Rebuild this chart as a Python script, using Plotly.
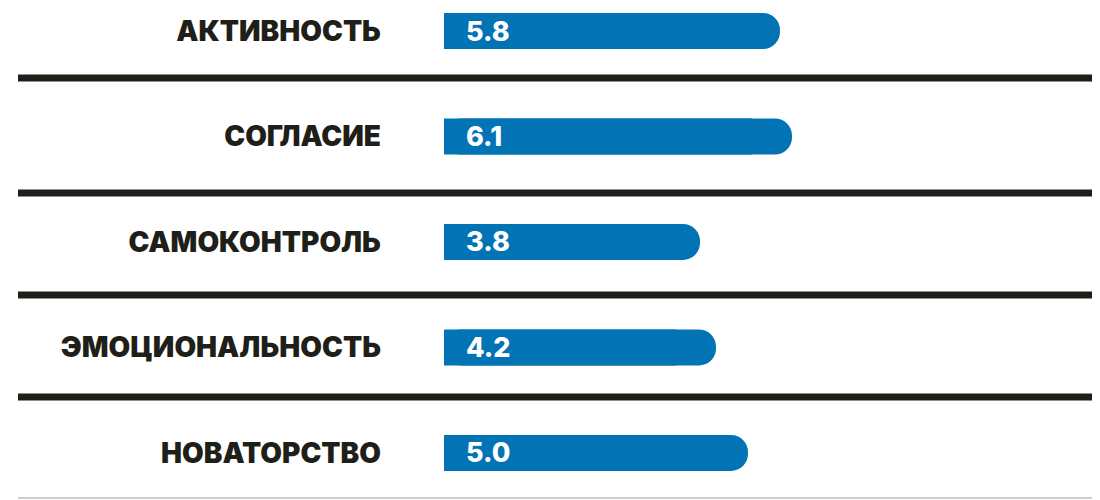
import plotly.graph_objects as go

# data
categories = ['АКТИВНОСТЬ', 'СОГЛАСИЕ', 'САМОКОНТРОЛЬ', 'ЭМОЦИОНАЛЬНОСТЬ', 'НОВАТОРСТВО']
values = [5.8, 6.1, 3.8, 4.2, 5.0]
value_labels = ['5.8', '6.1', '3.8', '4.2', '5.0']

BLUE = '#0273b4'
INK = '#1f1f1a'
FONT = 'Inter'
base = -2.6  # bars start left of zero in the original layout
lengths = [v - base for v in values]  # so each bar ends at its value

fig = go.Figure()

# rounded bar (right end rounded)
fig.add_trace(go.Bar(
    y=categories, x=lengths, base=base, orientation='h',
    marker=dict(color=BLUE, cornerradius=18, line=dict(width=0)),
    width=0.34, hoverinfo='skip'))

# square overlay so that the left end stays square
fig.add_trace(go.Bar(
    y=categories, x=[l - 1 for l in lengths], base=base, orientation='h',
    marker=dict(color=BLUE, line=dict(width=0)),
    width=0.34, hoverinfo='skip'))

# value labels inside bars
for cat, lab in zip(categories, value_labels):
    fig.add_annotation(x=base + 0.5, y=cat, text=lab, showarrow=False,
                       xanchor='left', yanchor='middle',
                       font=dict(family=FONT, size=27, color='white', weight=800))

# separators between rows
x_left = (10 - 432) / 660
for ysep in [0.445, 1.536, 2.502, 3.469]:
    fig.add_shape(type='line', xref='paper', yref='y',
                  x0=x_left, x1=1.05, y0=ysep, y1=ysep,
                  line=dict(color=INK, width=7))
fig.add_shape(type='line', xref='paper', yref='paper',
              x0=x_left, x1=1.05, y0=0.004, y1=0.004,
              line=dict(color='#bdbdbd', width=1.5))

fig.update_layout(
    width=1092, height=492,
    margin=dict(l=432, r=0, t=0, b=0),
    paper_bgcolor='white', plot_bgcolor='white',
    barmode='overlay', showlegend=False,
    xaxis=dict(range=[-2.7, 13.8], visible=False),
    yaxis=dict(range=[4.446, -0.218], showgrid=False, zeroline=False,
               ticks='', ticklabelstandoff=58,
               tickfont=dict(family=FONT, size=28, color=INK, weight=900)),
)

fig.write_html('out.html')
